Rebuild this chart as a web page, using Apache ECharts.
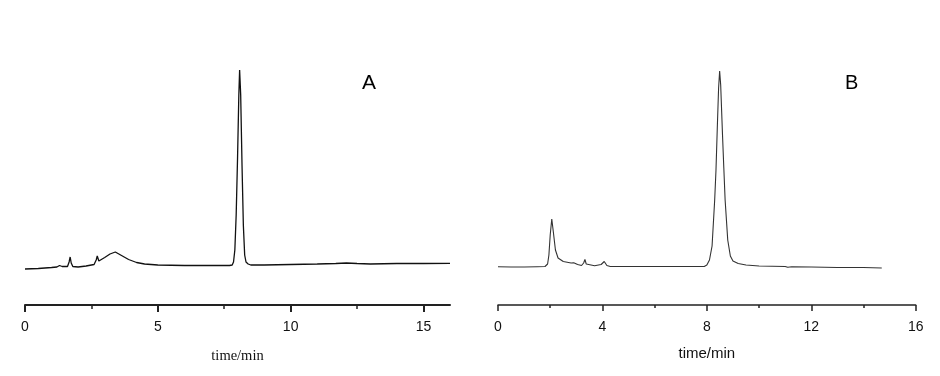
<!DOCTYPE html>
<html><head><meta charset="utf-8">
<script src="https://cdn.jsdelivr.net/npm/echarts@6/dist/echarts.min.js"></script>
<style>html,body{margin:0;padding:0;background:#fff}#c{width:940px;height:376px}</style>
</head><body><div id="c"></div>
<script>
// Chromatogram A
const timeA = [0,0.5,1.0,1.2,1.3,1.4,1.6,1.66,1.7,1.74,1.8,2.0,2.3,2.6,2.68,2.72,2.78,2.85,3.0,3.2,3.4,3.5,3.7,3.9,4.2,4.5,5.0,6.0,7.0,7.7,7.8,7.85,7.9,7.95,8.0,8.05,8.08,8.12,8.17,8.22,8.27,8.32,8.4,8.5,9.0,10.0,11.0,11.7,12.1,12.5,13.0,14.0,15.0,16.0];
const signalA = [18,18.25,18.75,19,19.75,19.25,19.25,21.5,24,21,19.25,19,19.5,20.25,22.5,24.5,22,22,23.75,25.5,26.5,25.75,24.25,22.75,21.25,20.5,20,19.75,19.75,19.75,20,21.5,27.5,45,72.5,105,117.5,105,70,40,25,21.5,20.5,20,20,20.25,20.5,20.75,21,20.75,20.5,20.75,20.75,20.85];
// Chromatogram B
const timeB = [0,0.5,1.0,1.5,1.8,1.9,1.95,2.0,2.06,2.12,2.2,2.3,2.5,2.8,2.9,3.05,3.2,3.28,3.33,3.38,3.45,3.7,3.95,4.07,4.17,4.3,5,6,7,7.5,7.9,8.0,8.1,8.2,8.3,8.35,8.4,8.45,8.49,8.53,8.6,8.65,8.7,8.8,8.9,9.0,9.2,9.5,10,11,11.1,11.15,11.25,12,13,14,14.7];
const signalB = [19.15,19,19,19.15,19.25,20.5,25,35,43,36.5,27.5,23.5,21.75,21,21.1,20.25,19.75,21,22.75,20.5,19.5,19.6,20.25,21.75,19.75,19.25,19.25,19.25,19.25,19.25,19.25,20,22.5,29.5,52.5,67.5,88.5,108.5,117,110,85,68.5,52.5,32.5,24.5,22,20.75,20,19.5,19.25,18.85,19.6,19.1,19,18.75,18.75,18.5];
// Axis ticks
const majorTicksA = [0,5,10,15];
const minorTicksA = [2.5,7.5,12.5];
const majorTicksB = [0,4,8,12,16];
const minorTicksB = [2,6,10,14];
const panelLabels = ['A','B'];
const axisTitle = 'time/min';

const zip = (t, v) => t.map((x, i) => [x, v[i]]);
const tickFont = "'Liberation Sans Narrow','Liberation Sans',Arial,sans-serif";

const chart = echarts.init(document.getElementById('c'), null, {renderer:'canvas'});
chart.setOption({
  animation:false,
  backgroundColor:'#fff',
  grid:[
    {left:25, top:65, width:425, height:240},
    {left:498, top:65, width:417.7, height:240}
  ],
  xAxis:[
    {gridIndex:0, type:'value', min:0, max:16, position:'bottom',
     axisLine:{lineStyle:{color:'#222', width:2}},
     axisTick:{customValues:majorTicksA, length:7, lineStyle:{color:'#222', width:2}},
     axisLabel:{customValues:majorTicksA, color:'#111', fontSize:14, fontFamily:tickFont, margin:15},
     splitLine:{show:false},
     name:axisTitle, nameLocation:'middle', nameGap:44,
     nameTextStyle:{fontFamily:"'Liberation Serif','Times New Roman',serif", fontSize:14.5, color:'#111'}},
    {gridIndex:0, type:'value', min:0, max:16, position:'bottom',
     axisLine:{show:false},
     axisTick:{customValues:minorTicksA, length:4, lineStyle:{color:'#222', width:1.5}},
     axisLabel:{show:false}, splitLine:{show:false}},
    {gridIndex:1, type:'value', min:0, max:16, interval:4, position:'bottom',
     axisLine:{lineStyle:{color:'#222', width:1.5}},
     axisTick:{customValues:majorTicksB, length:6, lineStyle:{color:'#222', width:1.5}},
     axisLabel:{customValues:majorTicksB, color:'#111', fontSize:14, fontFamily:tickFont, margin:15},
     splitLine:{show:false},
     name:axisTitle, nameLocation:'middle', nameGap:41,
     nameTextStyle:{fontFamily:"'Liberation Sans',Arial,sans-serif", fontSize:15, color:'#111'}},
    {gridIndex:1, type:'value', min:0, max:16, position:'bottom',
     axisLine:{show:false},
     axisTick:{customValues:minorTicksB, length:3, lineStyle:{color:'#222', width:1.5}},
     axisLabel:{show:false}, splitLine:{show:false}}
  ],
  yAxis:[
    {gridIndex:0, type:'value', min:0, max:120, show:false},
    {gridIndex:1, type:'value', min:0, max:120, show:false}
  ],
  graphic:[
    {type:'text', left:362, top:73, style:{text:panelLabels[0], font:"21px 'Liberation Sans',Arial,sans-serif", fill:'#000'}},
    {type:'text', left:845, top:73, style:{text:panelLabels[1], font:"20px 'Liberation Sans',Arial,sans-serif", fill:'#000'}}
  ],
  series:[
    {type:'line', xAxisIndex:0, yAxisIndex:0, data:zip(timeA, signalA), symbol:'none', smooth:false,
     lineStyle:{color:'#111', width:1.3}},
    {type:'line', xAxisIndex:2, yAxisIndex:1, data:zip(timeB, signalB), symbol:'none', smooth:false,
     lineStyle:{color:'#333', width:1.1}}
  ]
});
</script></body></html>
